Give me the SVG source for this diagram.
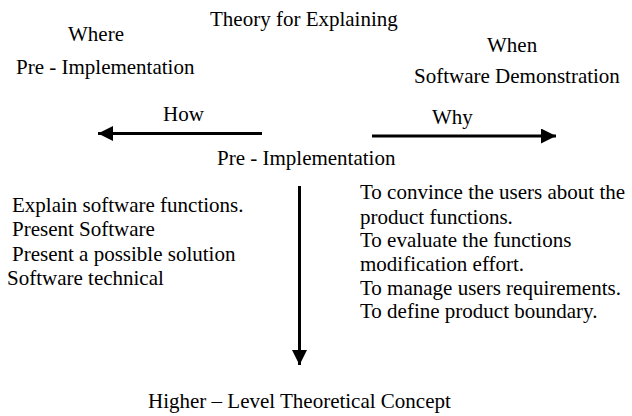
<svg xmlns="http://www.w3.org/2000/svg" width="632" height="416" viewBox="0 0 632 416">
  <style>
    text { font-family: "Liberation Serif", "Times New Roman", serif; font-size: 21px; fill: #000; }
    .conn { stroke: #000; stroke-width: 3; fill: none; }
  </style>
  <defs>
    <marker id="arrow" viewBox="0 0 10 10" refX="10" refY="5" markerWidth="5.3" markerHeight="5" markerUnits="strokeWidth" orient="auto">
      <path d="M0,0 L10,5 L0,10 Z" fill="#000"/>
    </marker>
  </defs>
  <rect width="632" height="416" fill="#fff"/>

  <g id="title">
    <text x="210" y="26">Theory for Explaining</text>
  </g>
  <g id="where">
    <text x="68" y="41">Where</text>
    <text x="16" y="74">Pre - Implementation</text>
  </g>
  <g id="when">
    <text x="487" y="52">When</text>
    <text x="414" y="83">Software Demonstration</text>
  </g>
  <g id="how-label">
    <text x="163" y="121">How</text>
  </g>
  <g id="why-label">
    <text x="432" y="124">Why</text>
  </g>
  <g id="center">
    <text x="217" y="165">Pre - Implementation</text>
  </g>
  <g id="how-list">
    <text x="12" y="212">Explain software functions.</text>
    <text x="12" y="236">Present Software</text>
    <text x="12" y="261">Present a possible solution</text>
    <text x="7" y="285">Software technical</text>
  </g>
  <g id="why-list">
    <text x="360" y="199">To convince the users about the</text>
    <text x="360" y="224">product functions.</text>
    <text x="360" y="247">To evaluate the functions</text>
    <text x="360" y="271">modification effort.</text>
    <text x="360" y="295">To manage users requirements.</text>
    <text x="360" y="318">To define product boundary.</text>
  </g>
  <g id="concept">
    <text x="148" y="408">Higher &#8211; Level Theoretical Concept</text>
  </g>

  <g id="connectors">
    <line class="conn" x1="262" y1="133.5" x2="98" y2="133.5" marker-end="url(#arrow)"/>
    <line class="conn" x1="372" y1="136" x2="556" y2="136" marker-end="url(#arrow)"/>
    <line class="conn" x1="299.5" y1="186" x2="299.5" y2="365" marker-end="url(#arrow)"/>
  </g>
</svg>
